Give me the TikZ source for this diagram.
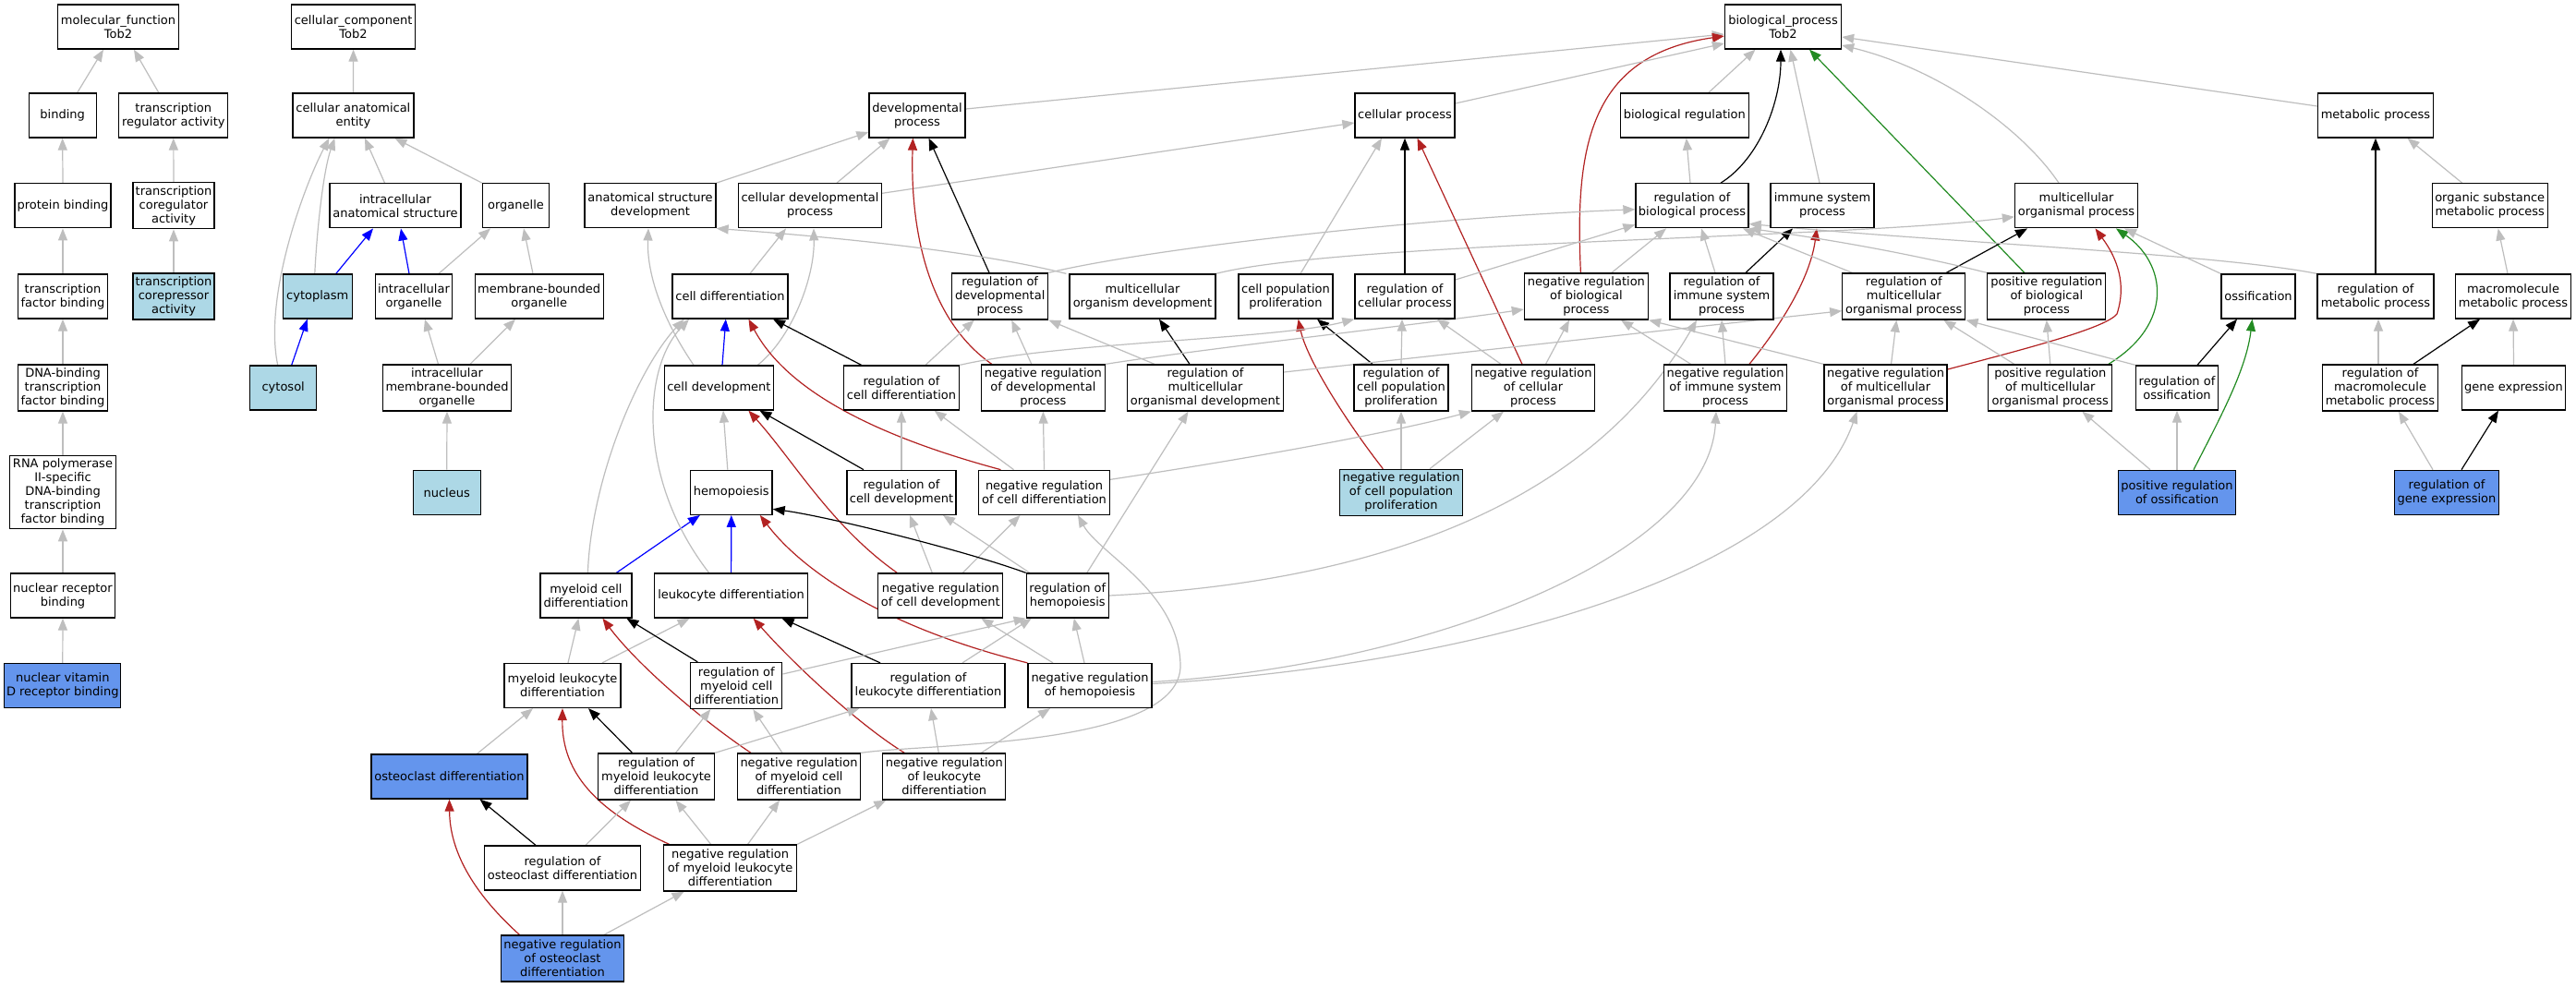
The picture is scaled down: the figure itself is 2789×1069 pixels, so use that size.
\documentclass[tikz,border=0pt]{standalone}
\usepackage{fontspec}
\setmainfont{DejaVu Sans}
\usetikzlibrary{arrows.meta}
\definecolor{edgegray}{RGB}{190,190,190}
\definecolor{fbred}{RGB}{178,34,34}
\definecolor{fggreen}{RGB}{34,139,34}
\definecolor{lbfill}{RGB}{173,216,230}
\definecolor{cbfill}{RGB}{100,149,237}
\newcommand\nodefont{\fontsize{13}{15}\selectfont}
\pgfdeclarelayer{bg}
\pgfsetlayers{bg,main}
\begin{document}
\begin{tikzpicture}[x=1pt,y=-1pt,
  nd/.style={draw=black,line width=1.3pt,fill=white,align=center,inner sep=1pt,font=\nodefont,minimum height=48pt},
  tall/.style={minimum height=50pt},
  lbn/.style={fill=lbfill},
  cbn/.style={fill=cbfill},
  edge/.style={line width=1.2pt,-{Triangle[length=13pt,width=10pt]}},
  eg/.style={edge,draw=edgegray},
  ek/.style={edge,draw=black},
  er/.style={edge,draw=fbred},
  egn/.style={edge,draw=fggreen},
  eb/.style={edge,draw=blue}]
\useasboundingbox (0,0) rectangle (2789,1069);
% row 1
\node[nd,minimum width=131pt] (mf) at (128,29) {molecular\_function\\Tob2};
\node[nd,minimum width=134pt] (cc) at (382.6,29) {cellular\_component\\Tob2};
\node[nd,minimum width=126pt] (bp) at (1930.5,29) {biological\_process\\Tob2};
% row 2
\node[nd,minimum width=73pt] (binding) at (67.7,125) {binding};
\node[nd,minimum width=118pt] (tra) at (187.8,125) {transcription\\regulator activity};
\node[nd,minimum width=131pt] (cae) at (382.4,125) {cellular anatomical\\entity};
\node[nd,minimum width=104pt] (dp) at (993,125) {developmental\\process};
\node[nd,minimum width=108pt] (cp) at (1521,125) {cellular process};
\node[nd,minimum width=139pt] (br) at (1823.8,125) {biological regulation};
\node[nd,minimum width=125pt] (mp) at (2572,125) {metabolic process};
% row 3
\node[nd,minimum width=104pt] (pb) at (68,222.8) {protein binding};
\node[nd,tall,minimum width=88pt] (tca) at (188,222.8) {transcription\\coregulator\\activity};
\node[nd,minimum width=142pt] (ias) at (428,222.8) {intracellular\\anatomical structure};
\node[nd,minimum width=72pt] (organelle) at (558.5,222.8) {organelle};
\node[nd,minimum width=142pt] (asd) at (704,222.8) {anatomical structure\\development};
\node[nd,minimum width=155pt] (cdp) at (877,222.8) {cellular developmental\\process};
\node[nd,minimum width=122pt] (rbp) at (1832,222.8) {regulation of\\biological process};
\node[nd,minimum width=112pt] (isp) at (1973,222.8) {immune system\\process};
\node[nd,minimum width=133pt] (mop) at (2248,222.8) {multicellular\\organismal process};
\node[nd,minimum width=125pt] (osmp) at (2695.7,222.8) {organic substance\\metabolic process};
% row 4
\node[nd,minimum width=97pt] (tfb) at (68,321) {transcription\\factor binding};
\node[nd,tall,lbn,minimum width=88pt] (tcra) at (188,321) {transcription\\corepressor\\activity};
\node[nd,lbn,minimum width=75pt] (cytoplasm) at (343.8,321) {cytoplasm};
\node[nd,minimum width=83pt] (io) at (448,321) {intracellular\\organelle};
\node[nd,minimum width=139pt] (mbo) at (583.7,321) {membrane-bounded\\organelle};
\node[nd,minimum width=125pt] (cd) at (790.5,321) {cell differentiation};
\node[nd,tall,minimum width=104pt] (rdp) at (1082.7,321) {regulation of\\developmental\\process};
\node[nd,minimum width=158pt] (mod) at (1237,321) {multicellular\\organism development};
\node[nd,minimum width=102pt] (cpp) at (1392,321) {cell population\\proliferation};
\node[nd,minimum width=108pt] (rcp) at (1521,321) {regulation of\\cellular process};
\node[nd,tall,minimum width=134pt] (nrbp) at (1717.4,321) {negative regulation\\of biological\\process};
\node[nd,tall,minimum width=112pt] (risp) at (1864,321) {regulation of\\immune system\\process};
\node[nd,tall,minimum width=133pt] (rmop) at (2061.3,321) {regulation of\\multicellular\\organismal process};
\node[nd,tall,minimum width=128pt] (prbp) at (2215.8,321) {positive regulation\\of biological\\process};
\node[nd,minimum width=80pt] (oss) at (2445,321) {ossification};
\node[nd,minimum width=126pt] (rmp) at (2572,321) {regulation of\\metabolic process};
\node[nd,minimum width=125pt] (mmp) at (2721,321) {macromolecule\\metabolic process};
% row 5
\node[nd,tall,minimum width=97pt] (dtfb) at (68,420) {DNA-binding\\transcription\\factor binding};
\node[nd,lbn,minimum width=72pt] (cytosol) at (306.7,420) {cytosol};
\node[nd,tall,minimum width=139pt] (imbo) at (484,420) {intracellular\\membrane-bounded\\organelle};
\node[nd,minimum width=118pt] (cdev) at (778.4,420) {cell development};
\node[nd,minimum width=125pt] (rcd) at (976,420) {regulation of\\cell differentiation};
\node[nd,tall,minimum width=134pt] (nrdp) at (1129.4,420) {negative regulation\\of developmental\\process};
\node[nd,tall,minimum width=169pt] (rmod) at (1305,420) {regulation of\\multicellular\\organismal development};
\node[nd,tall,minimum width=102pt] (rcpp) at (1517,420) {regulation of\\cell population\\proliferation};
\node[nd,tall,minimum width=133pt] (nrcp) at (1660,420) {negative regulation\\of cellular\\process};
\node[nd,tall,minimum width=133pt] (nrisp) at (1868,420) {negative regulation\\of immune system\\process};
\node[nd,tall,minimum width=133pt] (nrmop) at (2041.5,420) {negative regulation\\of multicellular\\organismal process};
\node[nd,tall,minimum width=134pt] (prmop) at (2219.8,420) {positive regulation\\of multicellular\\organismal process};
\node[nd,minimum width=89pt] (ross) at (2357,420) {regulation of\\ossification};
\node[nd,tall,minimum width=125pt] (rmmp) at (2577,420) {regulation of\\macromolecule\\metabolic process};
\node[nd,minimum width=112pt] (ge) at (2721.5,420) {gene expression};
% row 6
\node[nd,minimum width=115pt,minimum height=79pt] (rnap) at (68,533.2) {RNA polymerase\\II-specific\\DNA-binding\\transcription\\factor binding};
\node[nd,lbn,minimum width=73pt] (nucleus) at (483.7,533.3) {nucleus};
\node[nd,minimum width=88.5pt] (hemo) at (791.8,533.3) {hemopoiesis};
\node[nd,minimum width=118pt] (rcdev) at (976,533.3) {regulation of\\cell development};
\node[nd,minimum width=142pt] (nrcd) at (1130.5,533.3) {negative regulation\\of cell differentiation};
\node[nd,tall,lbn,minimum width=133pt] (nrcpp) at (1517,533.3) {negative regulation\\of cell population\\proliferation};
\node[nd,cbn,minimum width=127.5pt] (poss) at (2357,533.3) {positive regulation\\of ossification};
\node[nd,cbn,minimum width=113pt] (rge) at (2649,533.3) {regulation of\\gene expression};
% row 7
\node[nd,minimum width=112.5pt] (nrb) at (68,645) {nuclear receptor\\binding};
\node[nd,minimum width=99pt] (mcd) at (634.4,645) {myeloid cell\\differentiation};
\node[nd,minimum width=166pt] (ld) at (791.6,645) {leukocyte differentiation};
\node[nd,minimum width=135pt] (nrcdev) at (1018.3,645) {negative regulation\\of cell development};
\node[nd,minimum width=89pt] (rh) at (1155.8,645) {regulation of\\hemopoiesis};
% row 8
\node[nd,cbn,minimum width=126pt] (nvdrb) at (67.8,742.5) {nuclear vitamin\\D receptor binding};
\node[nd,minimum width=126pt] (mld) at (609,742.5) {myeloid leukocyte\\differentiation};
\node[nd,tall,minimum width=99pt] (rmcd) at (797.3,742.5) {regulation of\\myeloid cell\\differentiation};
\node[nd,minimum width=166pt] (rld) at (1005,742.5) {regulation of\\leukocyte differentiation};
\node[nd,minimum width=134pt] (nrh) at (1180,742.5) {negative regulation\\of hemopoiesis};
% row 9
\node[nd,cbn,minimum width=169pt] (od) at (486.5,841) {osteoclast differentiation};
\node[nd,tall,minimum width=126pt] (rmld) at (710.5,841) {regulation of\\myeloid leukocyte\\differentiation};
\node[nd,tall,minimum width=133pt] (nrmcd) at (865,841) {negative regulation\\of myeloid cell\\differentiation};
\node[nd,tall,minimum width=133pt] (nrld) at (1022.3,841) {negative regulation\\of leukocyte\\differentiation};
% row 10
\node[nd,minimum width=169pt] (rod) at (609,940) {regulation of\\osteoclast differentiation};
\node[nd,tall,minimum width=144pt] (nrmld) at (790.6,940) {negative regulation\\of myeloid leukocyte\\differentiation};
% row 11
\node[nd,tall,cbn,minimum width=133pt] (nrod) at (609,1038) {negative regulation\\of osteoclast\\differentiation};

\begin{pgfonlayer}{bg}
\fill[white] (0,0) rectangle (2789,1069);
% molecular function
\draw[eg] ([xshift=16]binding.north) -- ([xshift=-16]mf.south);
\draw[eg] ([xshift=-16]tra.north) -- ([xshift=17]mf.south);
\draw[eg] (pb.north) -- (binding.south);
\draw[eg] (tca.north) -- (tra.south);
\draw[eg] (tfb.north) -- (pb.south);
\draw[eg] (tcra.north) -- (tca.south);
\draw[eg] (dtfb.north) -- (tfb.south);
\draw[eg] (rnap.north) -- (dtfb.south);
\draw[eg] (nrb.north) -- (rnap.south);
\draw[eg] (nvdrb.north) -- (nrb.south);
% cellular component
\draw[eg] (cae.north) -- (cc.south);
\draw[eg] ([xshift=-11.5]ias.north) -- ([xshift=12.6]cae.south);
\draw[eg] (organelle.north west) -- ([xshift=45]cae.south);
\draw[eg] ([xshift=-3]cytoplasm.north) .. controls (343,250) and (350,185) .. ([xshift=-20]cae.south);
\draw[eg] ([xshift=-6]cytosol.north) .. controls (285,320) and (330,200) .. ([xshift=-26]cae.south);
\draw[eb] ([xshift=20]cytoplasm.north) -- ([xshift=-24]ias.south);
\draw[eb] ([xshift=-5]io.north) -- ([xshift=6]ias.south);
\draw[eg] ([xshift=27]io.north) -- ([xshift=-27.5]organelle.south);
\draw[eg] ([xshift=-6.7]mbo.north) -- ([xshift=8.5]organelle.south);
\draw[eb] ([xshift=9]cytosol.north) -- ([xshift=-11]cytoplasm.south);
\draw[eg] ([xshift=-9.5]imbo.north) -- ([xshift=12]io.south);
\draw[eg] ([xshift=25]imbo.north) -- ([xshift=-25.7]mbo.south);
\draw[eg] (nucleus.north) -- (imbo.south);
% biological process top
\draw[eg] ([yshift=7]dp.east) -- ([yshift=-8]bp.west);
\draw[er] ([xshift=-6]nrbp.north) .. controls (1705,160) and (1720,60) .. ([yshift=-10]bp.west);
\draw[eg] ([yshift=13]cp.east) -- ([yshift=-18]bp.west);
\draw[eg] ([xshift=26]br.north) -- ([xshift=-30]bp.south);
\draw[ek] ([xshift=31]rbp.north) .. controls (1905,172) and (1928,110) .. ([xshift=-2.5]bp.south);
\draw[eg] ([xshift=-3]isp.north) -- ([xshift=8]bp.south);
\draw[egn] ([xshift=-24]prbp.north) -- ([xshift=28.5]bp.south);
\draw[eg] ([xshift=-19]mop.north) .. controls (2190,140) and (2100,75) .. ([yshift=-20]bp.east);
\draw[eg] ([yshift=10]mp.west) -- ([yshift=-11]bp.east);
\draw[eg] ([xshift=-2]rbp.north) -- ([xshift=2]br.south);
% developmental / cellular
\draw[eg] (asd.north east) -- ([yshift=-18]dp.west);
\draw[eg] ([xshift=29]cdp.north) -- ([xshift=-29.5]dp.south);
\draw[eg] ([yshift=13.5]cdp.east) -- ([yshift=-8]cp.west);
\draw[ek] ([xshift=-11.7]rdp.north) -- ([xshift=12.6]dp.south);
\draw[er] ([xshift=-55.6]nrdp.north) .. controls (1010,350) and (985,260) .. ([xshift=-4.6]dp.south);
\draw[eg] ([xshift=21.5]cd.north) -- ([xshift=-26]cdp.south);
\draw[eg] ([xshift=42]cdev.north) .. controls (858,365) and (882,300) .. ([xshift=4]cdp.south);
\draw[eg] ([xshift=-27.4]cdev.north) .. controls (720,350) and (700,300) .. ([xshift=-2]asd.south);
\draw[eb] ([xshift=3.6]cdev.north) -- ([xshift=-4.7]cd.south);
\draw[eg] ([xshift=-3]mod.north west) .. controls (1050,270) and (880,255) .. (asd.south east);
\draw[eg] (mod.north east) .. controls (1450,262) and (2000,258) .. ([yshift=-12]mop.west);
\draw[eg] (rdp.north east) .. controls (1250,268) and (1550,235) .. ([yshift=-4]rbp.west);
\draw[eg] ([xshift=16]cpp.north) -- ([xshift=-25]cp.south);
\draw[ek] (rcp.north) -- (cp.south);
\draw[er] ([xshift=-12]nrcp.north) -- ([xshift=13.5]cp.south);
\draw[eg] ([yshift=18]rcp.east) -- ([yshift=-20.5]rbp.west);
\draw[eg] ([xshift=27.5]nrbp.north) -- ([xshift=-28]rbp.south);
\draw[eg] ([xshift=-7]risp.north) -- ([xshift=10]rbp.south);
\draw[ek] ([xshift=26]risp.north) -- ([xshift=-32]isp.south);
\draw[er] ([xshift=26]nrisp.north) .. controls (1930,350) and (1960,300) .. ([xshift=-6]isp.south);
\draw[eg] (nrisp.north) -- (risp.south);
\draw[eg] ([xshift=-37.4]nrisp.north) -- ([xshift=37.6]nrbp.south);
\draw[eg] ([xshift=-35]nrcp.north) -- ([xshift=35]rcp.south);
\draw[eg] ([xshift=13.5]nrcp.north) -- ([xshift=-18.4]nrbp.south);
\draw[er] ([xshift=-19.7]nrcpp.north) .. controls (1460,460) and (1415,390) .. ([xshift=13.6]cpp.south);
\draw[ek] ([xshift=-31]rcpp.north) -- ([xshift=34]cpp.south);
\draw[eg] (rcpp.north) -- ([xshift=-3]rcp.south);
\draw[eg] (nrcpp.north) -- (rcpp.south);
\draw[eg] ([xshift=31]nrcpp.north) -- ([xshift=-32]nrcp.south);
\draw[eg] ([yshift=14]nrcd.east) .. controls (1350,497) and (1500,470) .. (nrcp.south west);
\draw[ek] ([xshift=-17]rmod.north) -- ([xshift=18]mod.south);
\draw[eg] ([xshift=-55]rmod.north) -- (rdp.south east);
\draw[eg] ([yshift=17]rmod.east) -- ([yshift=-15.7]rmop.west);
\draw[eg] ([xshift=-12.6]nrdp.north) -- ([xshift=12.6]rdp.south);
\draw[eg] (nrdp.north east) .. controls (1300,378) and (1550,350) .. ([yshift=-14]nrbp.west);
\draw[eg] ([xshift=26]rcd.north) -- ([xshift=-28]rdp.south);
\draw[eg] (rcd.north east) .. controls (1150,370) and (1380,368) .. (rcp.south west);
\draw[ek] ([xshift=-43.4]rcd.north) -- ([xshift=46.5]cd.south);
\draw[er] ([xshift=-47]nrcd.north) .. controls (940,470) and (850,420) .. ([xshift=20]cd.south);
\draw[eg] ([xshift=-33]nrcd.north) -- ([xshift=35.6]rcd.south);
\draw[eg] (nrcd.north) -- (nrdp.south);
% hemopoiesis region
\draw[eg] ([xshift=-4]hemo.north) -- ([xshift=4.6]cdev.south);
\draw[ek] ([xshift=-41]rcdev.north) -- ([xshift=44]cdev.south);
\draw[er] ([xshift=-47]nrcdev.north) .. controls (900,570) and (860,500) .. ([xshift=32]cdev.south);
\draw[eg] (rcdev.north) -- (rcd.south);
\draw[eg] ([xshift=-9]nrcdev.north) -- ([xshift=9]rcdev.south);
\draw[eg] ([xshift=24]nrcdev.north) -- ([xshift=-26]nrcd.south);
\draw[eb] ([xshift=33]mcd.north) -- ([xshift=-34]hemo.south);
\draw[eb] (ld.north) -- (hemo.south);
\draw[eg] ([xshift=2]mcd.north) .. controls (640,520) and (690,400) .. ([xshift=-50]cd.south);
\draw[eg] ([xshift=-24]ld.north) .. controls (690,520) and (695,400) .. ([xshift=-44.5]cd.south);
\draw[ek] (rh.north west) .. controls (1050,598) and (900,560) .. ([yshift=-18]hemo.east);
\draw[er] (nrh.north west) .. controls (960,680) and (870,620) .. ([xshift=31]hemo.south);
\draw[eg] ([xshift=-41]rh.north) -- ([xshift=45]rcdev.south);
\draw[eg] ([xshift=21]rh.north) -- ([xshift=-18.5]rmod.south);
\draw[eg] (rh.east) .. controls (1600,625) and (1760,480) .. ([xshift=-27]risp.south);
\draw[eg] ([xshift=6]mld.north) -- ([xshift=-8]mcd.south);
\draw[eg] ([xshift=43]mld.north) -- ([xshift=-45]ld.south);
\draw[ek] ([xshift=-42]rmcd.north) -- ([xshift=44]mcd.south);
\draw[er] ([xshift=-52]nrmcd.north) .. controls (760,780) and (690,720) .. ([xshift=18]mcd.south);
\draw[ek] ([xshift=-52]rld.north) -- ([xshift=55]ld.south);
\draw[er] ([xshift=-43]nrld.north) .. controls (930,785) and (860,720) .. ([xshift=24]ld.south);
\draw[eg] ([yshift=12.5]rmcd.east) -- (rh.south west);
\draw[eg] ([xshift=37]rld.north) -- ([xshift=-39]rh.south);
\draw[eg] ([xshift=-6]nrh.north) -- ([xshift=7]rh.south);
\draw[eg] ([xshift=-40]nrh.north) -- ([xshift=44]nrcdev.south);
\draw[eg] ([yshift=4]nrh.east) .. controls (1550,720) and (1850,600) .. ([xshift=-10]nrisp.south);
\draw[eg] ([yshift=2]nrh.east) .. controls (1600,720) and (1950,620) .. ([xshift=-31]nrmop.south);
\draw[eg] ([xshift=30]od.north) -- ([xshift=-32]mld.south);
\draw[ek] ([xshift=-26]rmld.north) -- ([xshift=28]mld.south);
\draw[er] ([xshift=-66]nrmld.north) .. controls (650,880) and (608,840) .. (mld.south);
\draw[eg] ([xshift=21]rmld.north) -- ([xshift=-28]rmcd.south);
\draw[eg] (rmld.north east) -- ([xshift=-74.5]rld.south);
\draw[eg] ([xshift=-18]nrmcd.north) -- ([xshift=18]rmcd.south);
\draw[eg] (nrmcd.north east) .. controls (1000,805) and (1280,810) .. (1278,720) .. controls (1276,640) and (1190,600) .. ([xshift=36.5]nrcd.south);
\draw[eg] ([xshift=-6]nrld.north) -- ([xshift=3]rld.south);
\draw[eg] ([xshift=40]nrld.north) -- ([xshift=-43]nrh.south);
\draw[ek] ([xshift=-29]rod.north) -- ([xshift=33]od.south);
\draw[er] ([xshift=-46.5]nrod.north) .. controls (510,965) and (487,920) .. (od.south);
\draw[eg] (nrod.north) -- (rod.south);
\draw[eg] ([xshift=45]nrod.north) -- ([xshift=-50]nrmld.south);
\draw[eg] ([xshift=25]rod.north) -- ([xshift=-27.5]rmld.south);
\draw[eg] ([xshift=-21]nrmld.north) -- ([xshift=21]rmld.south);
\draw[eg] ([xshift=19]nrmld.north) -- ([xshift=-21]nrmcd.south);
\draw[eg] (nrmld.north east) -- ([xshift=-63]nrld.south);
% right side
\draw[ek] ([xshift=46]rmop.north) -- ([xshift=-53]mop.south);
\draw[eg] ([xshift=-56]rmop.north) -- ([xshift=55]rbp.south);
\draw[eg] (prbp.north west) .. controls (2050,270) and (1950,255) .. (rbp.south east);
\draw[eg] (rmp.north west) .. controls (2400,275) and (2100,262) .. ([yshift=5]rbp.south east);
\draw[er] ([yshift=20]nrmop.east) .. controls (2200,376) and (2280,355) .. (2292,340) .. controls (2305,300) and (2285,270) .. ([xshift=20.5]mop.south);
\draw[eg] ([xshift=6]nrmop.north) -- ([xshift=-8]rmop.south);
\draw[eg] (nrmop.north west) -- (nrbp.south east);
\draw[egn] ([xshift=63]prmop.north) .. controls (2355,350) and (2345,285) .. ([xshift=43]mop.south);
\draw[eg] ([xshift=-39]prmop.north) -- ([xshift=43]rmop.south);
\draw[eg] (prmop.north) -- (prbp.south);
\draw[ek] ([xshift=22]ross.north) -- ([xshift=-23]oss.south);
\draw[eg] (ross.north west) -- (rmop.south east);
\draw[egn] ([xshift=18]poss.north) .. controls (2405,450) and (2432,400) .. ([xshift=-6.5]oss.south);
\draw[eg] (poss.north) -- (ross.south);
\draw[eg] ([xshift=-29]poss.north) -- ([xshift=34.5]prmop.south);
\draw[eg] (oss.north west) -- ([xshift=52]mop.south);
\draw[ek] (rmp.north) -- (mp.south);
\draw[eg] ([xshift=-30]osmp.north) -- ([xshift=34.5]mp.south);
\draw[eg] ([xshift=-6]mmp.north) -- ([xshift=9]osmp.south);
\draw[eg] ([xshift=-2]rmmp.north) -- ([xshift=3]rmp.south);
\draw[ek] ([xshift=36]rmmp.north) -- ([xshift=-36]mmp.south);
\draw[eg] (ge.north) -- (mmp.south);
\draw[eg] ([xshift=-15]rge.north) -- ([xshift=20]rmmp.south);
\draw[ek] ([xshift=16]rge.north) -- ([xshift=-16.5]ge.south);
\end{pgfonlayer}
\end{tikzpicture}
\end{document}
